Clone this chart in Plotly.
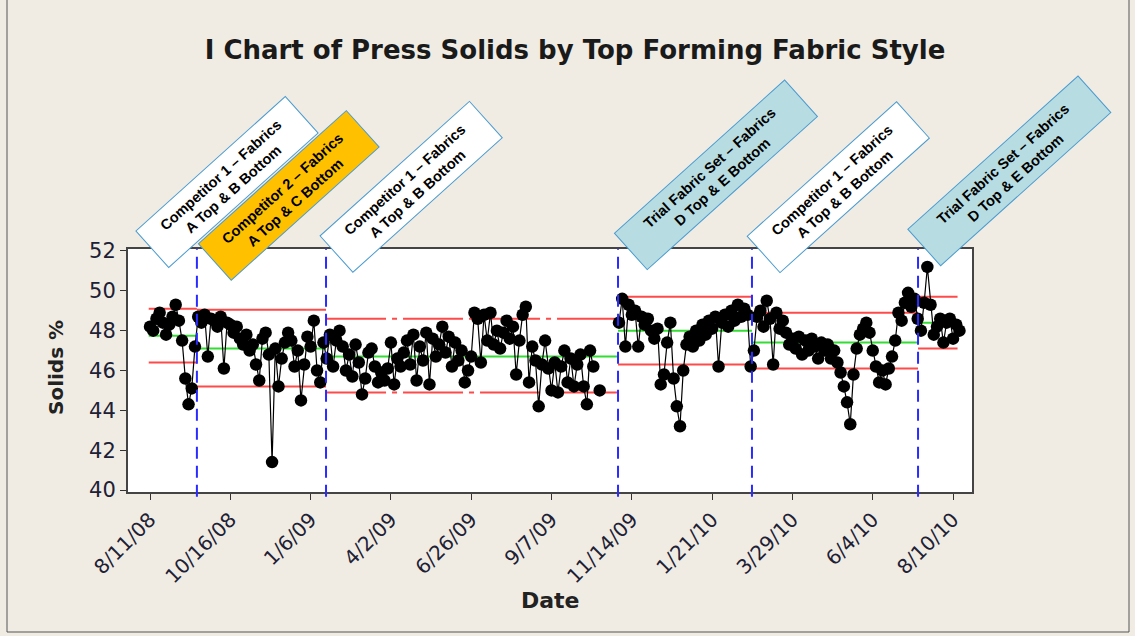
import plotly.graph_objects as go

# ---------------- data ----------------
tick_labels = ["8/11/08", "10/16/08", "1/6/09", "4/2/09", "6/26/09", "9/7/09",
               "11/14/09", "1/21/10", "3/29/10", "6/4/10", "8/10/10"]
tick_obs = [1, 26, 51, 76, 101, 126, 151, 176, 201, 226, 251]

solids_phase1 = [48.2, 48.0, 48.6, 48.9, 48.4, 47.8, 48.3, 48.7, 49.3, 48.5,
                 47.5, 45.6, 44.3, 45.1, 47.2]
solids_phase2 = [48.7, 48.4, 48.8, 46.7, 48.6, 48.5, 48.2, 48.7, 46.1, 48.4,
                 48.3, 47.9, 48.2, 47.6, 47.3, 47.8, 47.0, 47.3, 46.3, 45.5,
                 47.6, 47.9, 46.8, 41.4, 47.1, 45.2, 46.6, 47.4, 47.9, 47.5,
                 46.2, 47.0, 44.5, 46.3, 47.7, 47.2, 48.5, 46.0, 45.4, 47.4]
solids_phase3 = [46.6, 47.8, 46.2, 47.5, 48.0, 47.2, 46.0, 46.8, 45.7, 47.3,
                 46.4, 44.8, 45.6, 46.9, 47.1, 46.2, 45.4, 45.9, 45.5, 46.1,
                 47.4, 45.3, 46.6, 46.2, 46.9, 47.5, 46.3, 47.8, 45.5, 47.2,
                 46.5, 47.9, 45.3, 47.6, 46.7, 47.3, 48.2, 46.9, 47.7, 46.2,
                 47.4, 46.5, 47.0, 45.4, 46.0, 46.7, 48.9, 48.6, 46.4, 48.8,
                 47.5, 48.9, 47.3, 48.0, 47.1, 47.9, 48.5, 47.6, 48.2, 45.8,
                 47.5, 48.8, 49.2, 45.4, 47.2, 46.5, 44.2, 46.3, 47.5, 46.1,
                 45.0, 46.4, 44.9, 46.2, 47.0, 45.4, 46.6, 45.2, 46.3, 46.8,
                 45.2, 44.3, 47.0, 46.2, None, 45.0, None, None, None, None,
                 None]
solids_phase4 = [48.4, 49.6, 47.2, 49.3, 48.8, 49.0, 47.2, 48.7, 48.3, 48.6,
                 48.0, 47.6, 48.1, 45.3, 45.8, 47.4, 48.4, 45.6, 44.2, 43.2,
                 46.0, 47.3, 47.7, 47.2, 48.0, 47.5, 48.3, 47.8, 48.5, 48.1,
                 48.7, 46.2, 48.4, 48.8, 48.2, 49.0, 48.5, 49.3, 48.7, 49.1,
                 48.8, 46.2]
solids_phase5 = [47.0, 48.7, 49.0, 48.2, 49.5, 48.6, 46.3, 48.9, 48.1, 48.5,
                 47.9, 47.3, 47.6, 47.1, 47.7, 46.8, 47.5, 47.0, 47.6, 47.2,
                 46.6, 47.4, 47.0, 47.3, 46.6, 47.0, 46.4, 45.9, 45.2, 44.4,
                 43.3, 45.8, 47.1, 47.8, 48.1, 48.4, 47.9, 47.0, 46.2, 45.4,
                 46.0, 45.3, 46.1, 46.7, 47.5, 48.9, 48.5, 49.4, 49.9, 49.2,
                 49.6, 48.6]
solids_phase6 = [48.0, 49.4, 51.2, 49.3, 47.8, 48.2, 48.6, 47.4, 48.4, 48.6,
                 47.6, 48.3, 48.0]

solids = (solids_phase1 + solids_phase2 + solids_phase3 + solids_phase4 +
          solids_phase5 + solids_phase6)
obs = list(range(1, len(solids) + 1))

phase_start = [0.6, 15.6, 55.8, 146.7, 188.4, 240.1]
phase_end = [15.6, 55.8, 146.7, 188.4, 240.1, 252.4]
phase_ucl = [49.1, 49.05, 48.6, 49.7, 48.9, 49.7]
phase_center = [47.75, 47.1, 46.7, 48.0, 47.4, 48.4]
phase_lcl = [46.4, 45.2, 44.9, 46.3, 46.1, 47.1]
phase_breaks = [15.6, 55.8, 146.7, 188.4, 240.1]

box_texts = ["Competitor 1 \u2013 Fabrics<br>A Top & B Bottom",
             "Competitor 2 \u2013 Fabrics<br>A Top & C Bottom",
             "Competitor 1 \u2013 Fabrics<br>A Top & B Bottom",
             "Trial Fabric Set \u2013 Fabrics<br>D Top & E Bottom",
             "Competitor 1 \u2013 Fabrics<br>A Top & B Bottom",
             "Trial Fabric Set \u2013 Fabrics<br>D Top & E Bottom"]
box_colors = ["#FFFFFF", "#FFC000", "#FFFFFF", "#B7DDE3", "#FFFFFF", "#B7DDE3"]
box_x = [0.1173, 0.1913, 0.3351, 0.6964, 0.8416, 1.0438]
box_y = [1.2757, 1.2202, 1.2564, 1.3045, 1.2564, 1.3230]
box_w = [194, 192, 194, 222, 194, 222]

# ---------------- figure ----------------
fig = go.Figure()

RED = "#FF4A4A"
GREEN = "#33DD33"

for i in range(len(phase_start)):
    xs = [phase_start[i], phase_end[i]]
    dash = "60px,6px,5px,6px" if i == 2 else "solid"
    fig.add_trace(go.Scatter(x=xs, y=[phase_center[i]] * 2, mode="lines",
                             line=dict(color=GREEN, width=2),
                             showlegend=False, hoverinfo="skip"))
    fig.add_trace(go.Scatter(x=xs, y=[phase_ucl[i]] * 2, mode="lines",
                             line=dict(color=RED, width=2, dash=dash),
                             showlegend=False, hoverinfo="skip"))
    fig.add_trace(go.Scatter(x=xs, y=[phase_lcl[i]] * 2, mode="lines",
                             line=dict(color=RED, width=2, dash=dash),
                             showlegend=False, hoverinfo="skip"))

for b in phase_breaks:
    fig.add_shape(type="line", x0=b, x1=b, xref="x", y0=-0.02, y1=1,
                  yref="paper", line=dict(color="#2B2BFF", width=2,
                                          dash="12px,7px"))

fig.add_trace(go.Scatter(x=obs, y=solids, mode="lines+markers",
                         line=dict(color="black", width=1.2),
                         marker=dict(color="black", size=12.5),
                         connectgaps=False, showlegend=False))

for t, c, x, y, w in zip(box_texts, box_colors, box_x, box_y, box_w):
    fig.add_annotation(text=t, x=x, y=y, xref="paper", yref="paper",
                       xanchor="center", yanchor="middle", showarrow=False,
                       textangle=-42, bgcolor=c, bordercolor="#4A9BD0",
                       borderwidth=1, borderpad=3, width=w, height=42,
                       align="center",
                       font=dict(family="Liberation Sans, Arial", size=14.5,
                                 color="black", weight="bold"))

# axis titles
fig.add_annotation(text="Date", x=(550 - 128) / 844, y=(492 - 600) / 243,
                   xref="paper", yref="paper", showarrow=False,
                   xanchor="center", yanchor="middle",
                   font=dict(family="DejaVu Sans", size=22, color="#222222",
                             weight="bold"))
fig.add_annotation(text="Solids %", x=(56 - 128) / 844, y=(492 - 368) / 243,
                   xref="paper", yref="paper", showarrow=False, textangle=-90,
                   xanchor="center", yanchor="middle",
                   font=dict(family="DejaVu Sans", size=20, color="#222222",
                             weight="bold"))

# outer frame
fig.add_shape(type="rect", xref="paper", yref="paper",
              x0=(7 - 128) / 844, x1=(1129 - 128) / 844,
              y0=(492 - 632) / 243, y1=(492 + 20) / 243,
              line=dict(color="#555555", width=1), layer="below")

fig.update_layout(
    width=1135, height=636,
    margin=dict(l=128, r=163, t=249, b=144),
    paper_bgcolor="#F0ECE3", plot_bgcolor="white",
    title=dict(text="I Chart of Press Solids by Top Forming Fabric Style",
               x=575 / 1135, y=1 - 50 / 636, xanchor="center",
               yanchor="middle",
               font=dict(family="DejaVu Sans", size=26, color="#1a1a1a",
                         weight="bold")),
    showlegend=False,
)
fig.update_xaxes(range=[-5.85, 256.9], tickmode="array", tickvals=tick_obs,
                 ticktext=tick_labels, tickangle=-45, ticks="outside",
                 ticklen=6, tickcolor="#333333", showgrid=False,
                 zeroline=False, showline=True, mirror=True,
                 linecolor="#444444", linewidth=2,
                 tickfont=dict(family="DejaVu Sans", size=20, color="#202035"))
fig.update_yaxes(range=[39.9, 52.1], tickmode="array",
                 tickvals=[40, 42, 44, 46, 48, 50, 52], ticks="outside",
                 ticklen=6, tickcolor="#333333", showgrid=False,
                 zeroline=False, showline=True, mirror=True,
                 linecolor="#444444", linewidth=2,
                 tickfont=dict(family="DejaVu Sans", size=21, color="#202035"))

fig.write_html("out.html", config={"displayModeBar": False},
               post_script="document.body.style.margin='0';document.body.style.overflow='hidden';")
